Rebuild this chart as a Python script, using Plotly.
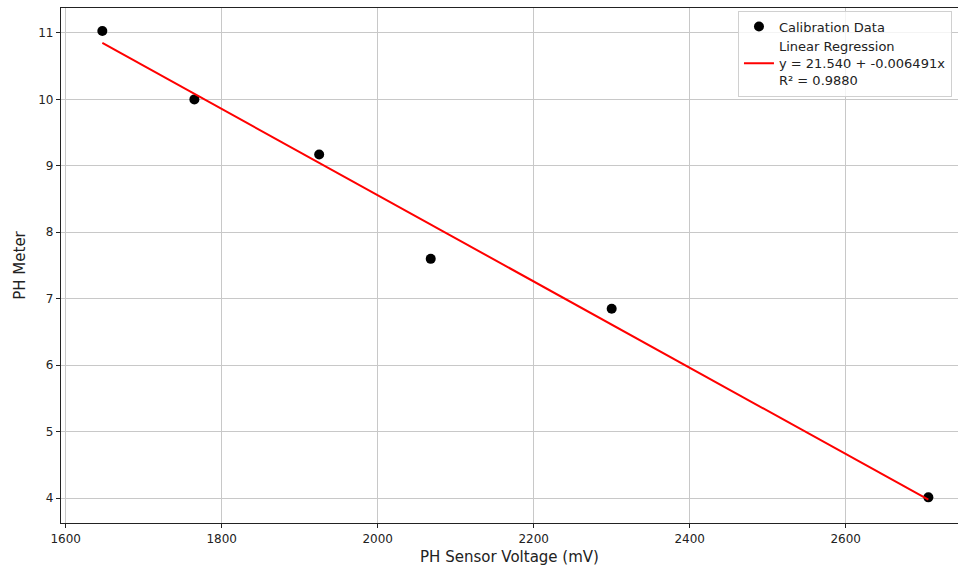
import plotly.graph_objects as go

voltage_mv = [1647, 1765, 1925, 2068, 2300, 2706]
ph_meter = [11.03, 10.00, 9.17, 7.60, 6.85, 4.01]
intercept = 21.540
slope = -0.006491
r_squared = 0.9880
x_ticks = [1600, 1800, 2000, 2200, 2400, 2600]
y_ticks = [4, 5, 6, 7, 8, 9, 10, 11]

line_x = [min(voltage_mv), max(voltage_mv)]
line_y = [intercept + slope * v for v in line_x]

fig = go.Figure()
fig.add_trace(go.Scatter(
    x=voltage_mv, y=ph_meter, mode="markers", name="Calibration Data",
    marker=dict(color="black", size=10),
))
fig.add_trace(go.Scatter(
    x=line_x, y=line_y, mode="lines",
    name=f"Linear Regression<br>y = {intercept:.3f} + {slope:.6f}x<br>R² = {r_squared:.4f}",
    line=dict(color="red", width=2),
))

font = "DejaVu Sans"
fig.update_layout(
    width=958, height=571,
    margin=dict(l=61, r=0, t=8, b=48),
    paper_bgcolor="white", plot_bgcolor="white",
    font=dict(family=font, size=12, color="#222"),
    showlegend=True,
    legend=dict(
        x=0.7547, y=0.995, xanchor="left", yanchor="top",
        bgcolor="rgba(255,255,255,0.8)", bordercolor="#d0d0d0", borderwidth=1,
        font=dict(family=font, size=13, color="#222"),
        tracegroupgap=0,
    ),
)
fig.update_xaxes(
    range=[1594, 2744], tickvals=x_ticks,
    showgrid=True, gridcolor="#c8c8c8", gridwidth=1,
    showline=True, linecolor="#222", linewidth=1.2, mirror=True,
    ticks="outside", ticklen=4, tickcolor="#222",
    zeroline=False,
    title=dict(text="PH Sensor Voltage (mV)", font=dict(family=font, size=15, color="#222"), standoff=6),
)
fig.update_yaxes(
    range=[3.624, 11.376], tickvals=y_ticks,
    showgrid=True, gridcolor="#c8c8c8", gridwidth=1,
    showline=True, linecolor="#222", linewidth=1.2, mirror=True,
    ticks="outside", ticklen=4, tickcolor="#222",
    zeroline=False,
    title=dict(text="PH Meter", font=dict(family=font, size=15, color="#222"), standoff=8),
)

fig.write_html("out.html")
